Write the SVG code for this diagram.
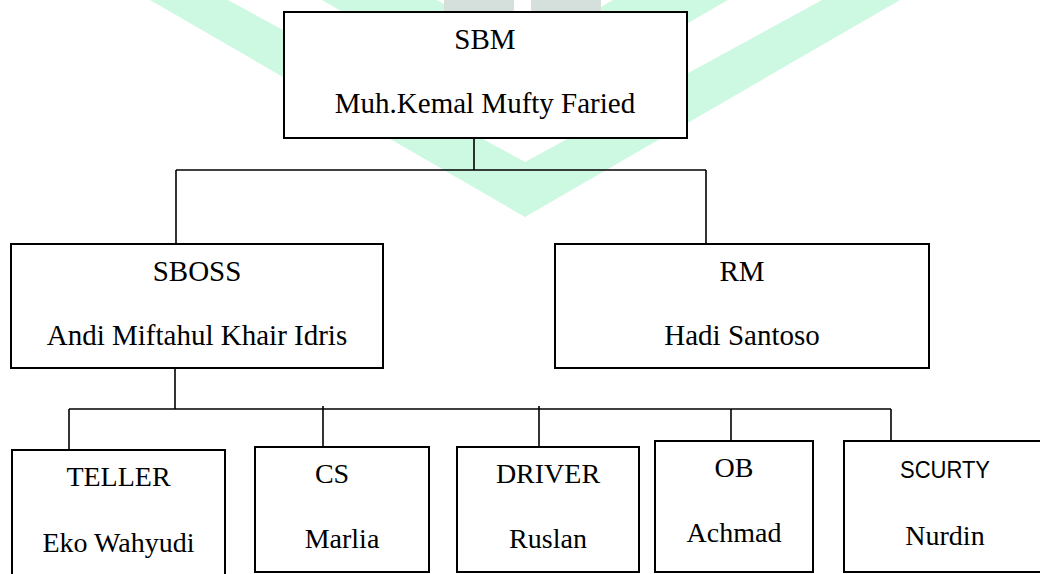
<svg xmlns="http://www.w3.org/2000/svg" width="1040" height="574" viewBox="0 0 1040 574">
  <defs>
    <style>
      .box { fill: #ffffff; stroke: #000000; stroke-width: 2; }
      .ln { stroke: #000000; stroke-width: 1.6; fill: none; }
      .t { font-family: "Liberation Serif", "Times New Roman", serif; font-size: 29px; fill: #000000; text-anchor: middle; }
      .ts { font-family: "Liberation Serif", "Times New Roman", serif; font-size: 28px; fill: #000000; text-anchor: middle; }
      .sans { font-family: "Liberation Sans", Arial, sans-serif; font-size: 24px; fill: #000000; text-anchor: middle; }
      .wm { fill: #cdf8e2; }
      .wg { fill: #d5e0dc; }
    </style>
  </defs>
  <rect x="0" y="0" width="1040" height="574" fill="#ffffff"/>
  <g id="watermark">
    <polygon class="wm" points="150,0 228,0 525,162 822,0 900,0 525,217"/>
    <polygon class="wm" points="322,0 437,0 525,51 613,0 728,0 525,117"/>
    <rect class="wg" x="444" y="0" width="70" height="20"/>
    <rect class="wg" x="531" y="0" width="70" height="20"/>
  </g>
  <g id="connectors">
    <line class="ln" x1="474" y1="138" x2="474" y2="170"/>
    <line class="ln" x1="176" y1="170" x2="706" y2="170"/>
    <line class="ln" x1="176" y1="170" x2="176" y2="244"/>
    <line class="ln" x1="706" y1="170" x2="706" y2="244"/>
    <line class="ln" x1="175" y1="368" x2="175" y2="409"/>
    <line class="ln" x1="69" y1="409" x2="891" y2="409"/>
    <line class="ln" x1="69" y1="409" x2="69" y2="450"/>
    <line class="ln" x1="323" y1="406" x2="323" y2="447"/>
    <line class="ln" x1="539" y1="406" x2="539" y2="447"/>
    <line class="ln" x1="731" y1="409" x2="731" y2="441"/>
    <line class="ln" x1="891" y1="409" x2="891" y2="441"/>
  </g>
  <g id="node-sbm">
    <rect class="box" x="284" y="12" width="403" height="126"/>
    <text class="t" x="485" y="49">SBM</text>
    <text class="t" x="485" y="113">Muh.Kemal Mufty Faried</text>
  </g>
  <g id="node-sboss">
    <rect class="box" x="11" y="244" width="372" height="124"/>
    <text class="t" x="197" y="281">SBOSS</text>
    <text class="t" x="197" y="345">Andi Miftahul Khair Idris</text>
  </g>
  <g id="node-rm">
    <rect class="box" x="555" y="244" width="374" height="124"/>
    <text class="t" x="742" y="281">RM</text>
    <text class="t" x="742" y="345">Hadi Santoso</text>
  </g>
  <g id="node-teller">
    <rect class="box" x="12" y="450" width="213" height="140"/>
    <text class="ts" x="118.5" y="486">TELLER</text>
    <text class="ts" x="118.5" y="552">Eko Wahyudi</text>
  </g>
  <g id="node-cs">
    <rect class="box" x="255" y="447" width="174" height="125"/>
    <text class="ts" x="332" y="483">CS</text>
    <text class="ts" x="342" y="548">Marlia</text>
  </g>
  <g id="node-driver">
    <rect class="box" x="457" y="447" width="182" height="125"/>
    <text class="ts" x="548" y="483">DRIVER</text>
    <text class="ts" x="548" y="548">Ruslan</text>
  </g>
  <g id="node-ob">
    <rect class="box" x="655" y="441" width="158" height="131"/>
    <text class="ts" x="734" y="477">OB</text>
    <text class="ts" x="734" y="542">Achmad</text>
  </g>
  <g id="node-scurty">
    <rect class="box" x="844" y="441" width="200" height="131"/>
    <text class="sans" x="945" y="478" textLength="90" lengthAdjust="spacingAndGlyphs">SCURTY</text>
    <text class="ts" x="945" y="545">Nurdin</text>
  </g>
</svg>
